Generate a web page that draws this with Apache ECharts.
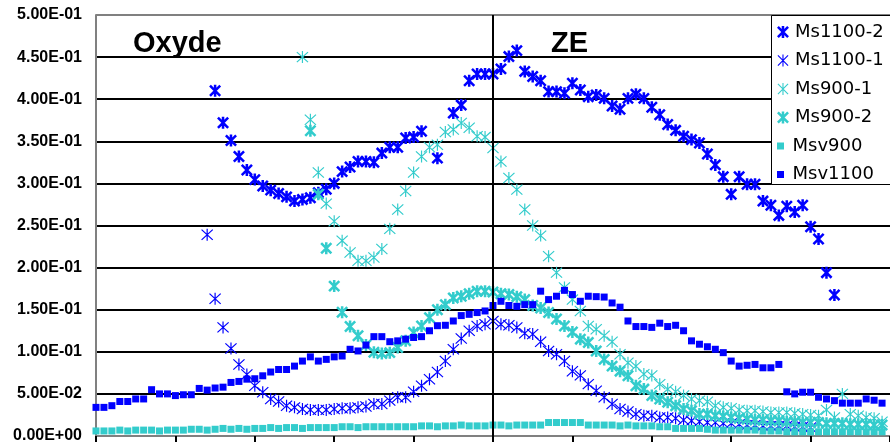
<!DOCTYPE html>
<html><head><meta charset="utf-8">
<script src="https://cdn.jsdelivr.net/npm/echarts@6/dist/echarts.min.js"></script>
<style>html,body{margin:0;padding:0;background:#fff}#c{width:890px;height:444px}</style>
</head><body><div id="c"></div>
<script>
// ---------------- DATA ----------------
const seriesNames = ['Ms1100-2', 'Ms1100-1', 'Ms900-1', 'Ms900-2', 'Msv900', 'Msv1100'];
const yTickLabels = ['0.00E+00','5.00E-02','1.00E-01','1.50E-01','2.00E-01','2.50E-01','3.00E-01','3.50E-01','4.00E-01','4.50E-01','5.00E-01'];
const zoneLabels = ['Oxyde', 'ZE'];
const zoneBoundary = 50;

const ms1100_2_start = 15;
const ms1100_2 = [
  0.410,0.372,0.351,0.332,0.316,0.3045,0.297,0.292,0.288,0.284,
  0.279,0.281,0.283,0.289,0.293,0.300,0.314,0.3195,0.326,0.326,
  0.325,0.336,0.343,0.343,0.354,0.355,0.362,null,0.330,null,
  0.3835,0.393,0.422,0.430,0.430,0.430,0.436,0.4506,0.4577,0.433,
  0.427,0.422,0.409,0.409,0.407,0.419,0.411,0.403,0.405,0.401,
  0.392,0.388,0.401,0.406,0.401,0.3905,0.3815,0.370,0.363,0.356,
  0.352,0.348,0.335,0.322,0.308,0.287,0.308,0.299,0.299,0.279,
  0.274,0.262,0.273,0.266,0.274,0.2485,0.234,0.194,0.1675
];

const ms1100_1_start = 14;
const ms1100_1 = [
  0.239,0.163,0.129,0.104,0.085,0.073,0.0596,0.052,0.044,0.041,
  0.036,0.034,0.032,0.031,0.031,0.031,0.032,0.033,0.033,0.034,
  0.035,0.038,0.038,0.042,0.046,0.046,0.0525,0.0596,0.0675,0.076,
  0.089,0.103,0.1157,0.125,0.1307,0.1327,0.1366,0.1327,0.1315,0.1288,
  0.122,0.121,0.112,0.101,0.097,0.089,0.077,0.072,0.0616,0.0537,
  0.046,0.038,0.032,0.029,0.026,0.024,0.024,0.022,0.022,0.021,
  0.019,0.018,0.017,0.016,0.016,0.015,0.015,0.014,0.013,0.013,
  0.012,0.012,0.012,0.012,0.011,0.011,0.010
];

const ms900_1_start = 26;
const ms900_1 = [
  0.450,0.3756,0.313,0.276,0.255,0.232,0.218,0.208,0.208,0.212,
  0.222,0.246,0.269,0.291,0.313,0.332,0.343,0.346,0.361,0.364,
  0.3717,0.366,0.356,0.355,0.342,0.326,0.3065,0.2926,0.269,0.250,
  0.238,0.2136,0.194,0.1765,0.162,0.1485,0.1307,0.1268,0.119,0.112,
  0.097,0.087,0.083,0.0735,0.072,0.0616,0.0557,0.0525,0.048,0.044,
  0.042,0.0406,0.036,0.034,0.033,0.031,0.030,0.030,0.029,0.028,
  0.028,0.028,0.027,0.026,0.025,0.024,0.031,0.022,0.050,0.026,
  0.024,0.022,0.021,0.017
];

const ms900_2_start = 27;
const ms900_2 = [
  0.3626,0.287,0.223,0.178,0.147,0.130,0.119,0.108,0.0995,0.098,
  0.099,0.105,0.113,0.123,0.1307,0.1406,0.150,0.156,0.164,0.166,
  0.169,0.172,0.172,0.171,0.169,0.168,0.1655,0.162,0.155,0.152,
  0.1466,0.139,0.1307,0.1236,0.115,0.111,0.101,0.091,0.083,0.077,
  0.0715,0.0596,0.0557,0.048,0.044,0.040,0.036,0.032,0.030,0.026,
  0.026,0.024,0.0233,0.022,0.021,0.020,0.019,0.019,0.018,0.018,
  0.017,0.017,0.016,0.016,0.016,0.015,0.015,0.015,0.014,0.014,
  0.014,0.013,0.013
];

const msv900_start = 0;
const msv900 = [
  0.006,0.006,0.006,0.007,0.006,0.007,0.007,0.007,0.006,0.007,
  0.007,0.007,0.008,0.008,0.007,0.008,0.009,0.008,0.009,0.008,
  0.009,0.009,0.010,0.009,0.010,0.010,0.009,0.010,0.010,0.010,
  0.010,0.011,0.011,0.010,0.011,0.011,0.011,0.011,0.011,0.011,
  0.011,0.012,0.012,0.011,0.012,0.012,0.013,0.012,0.012,0.012,
  0.013,0.013,0.012,0.013,0.013,0.013,0.013,0.016,0.016,0.016,
  0.016,0.016,0.013,0.013,0.013,0.013,0.012,0.013,0.012,0.012,
  0.012,0.011,0.011,0.009,0.009,0.009,0.009,0.008,0.007,0.007,
  0.007,0.007,0.007,0.007,0.006,0.006,0.006,0.005,0.005,0.005,
  0.005,0.005,0.005,0.005,0.005,0.005,0.005,0.005,0.005,0.005
];

const msv1100_start = 0;
const msv1100 = [
  0.034,0.034,0.036,0.041,0.041,0.044,0.044,0.055,0.050,0.050,
  0.048,0.049,0.049,0.0565,0.0545,0.057,0.058,0.0636,0.0648,0.0675,
  0.068,0.0715,0.076,0.079,0.079,0.083,0.089,0.094,0.089,0.091,
  0.094,0.095,0.103,0.101,0.108,0.118,0.118,0.112,0.113,0.115,
  0.117,0.118,0.125,0.131,0.1315,0.1366,0.143,0.1445,0.1466,0.1485,
  0.155,0.160,0.155,0.154,0.156,0.156,0.172,0.162,0.166,0.173,
  0.168,0.160,0.166,0.1655,0.165,0.158,0.153,0.1366,0.130,0.130,
  0.129,0.134,0.130,0.1315,0.125,0.113,0.109,0.106,0.103,0.099,
  0.089,0.083,0.084,0.085,0.081,0.081,0.085,0.0525,0.050,0.052,
  0.052,0.046,0.044,0.042,0.039,0.039,0.039,0.044,0.0425,0.039
];

// ---------------- STYLE ----------------
const BLUE = '#0000FF', TURQ = '#33CCCC';
function asteriskPath(t) {
  const c = 10, parts = [];
  const arms = [[0, 1, 10], [Math.SQRT1_2, Math.SQRT1_2, 12], [Math.SQRT1_2, -Math.SQRT1_2, 12]];
  for (const [dx, dy, a] of arms) {
    const nx = -dy, ny = dx;
    const pts = [
      [c + a * dx + t * nx, c + a * dy + t * ny],
      [c - a * dx + t * nx, c - a * dy + t * ny],
      [c - a * dx - t * nx, c - a * dy - t * ny],
      [c + a * dx - t * nx, c + a * dy - t * ny]
    ];
    parts.push('M' + pts.map(p => p[0].toFixed(2) + ',' + p[1].toFixed(2)).join('L') + 'Z');
  }
  return 'path://' + parts.join('');
}
const STAR_BOLD = asteriskPath(2.1);
const STAR_THIN = asteriskPath(0.9);
const SQUARE = 'path://M0,0L10,0L10,10L0,10Z';

function toPoints(start, arr) {
  const out = [];
  arr.forEach((v, i) => { if (v !== null && v !== undefined) out.push([start + i, v]); });
  return out;
}

const seriesDefs = [
  { name: seriesNames[0], data: toPoints(ms1100_2_start, ms1100_2), symbol: STAR_BOLD, size: 12, color: BLUE },
  { name: seriesNames[1], data: toPoints(ms1100_1_start, ms1100_1), symbol: STAR_THIN, size: 12, color: BLUE },
  { name: seriesNames[2], data: toPoints(ms900_1_start, ms900_1), symbol: STAR_THIN, size: 12, color: TURQ },
  { name: seriesNames[3], data: toPoints(ms900_2_start, ms900_2), symbol: STAR_BOLD, size: 12, color: TURQ },
  { name: seriesNames[4], data: toPoints(msv900_start, msv900), symbol: SQUARE, size: 7, color: TURQ },
  { name: seriesNames[5], data: toPoints(msv1100_start, msv1100), symbol: SQUARE, size: 7, color: BLUE }
];

const series = seriesDefs.map((d, idx) => {
  const s = {
    type: 'scatter', name: d.name, data: d.data,
    symbol: d.symbol, symbolSize: d.size, symbolKeepAspect: false,
    itemStyle: { color: d.color, opacity: 1 },
    emphasis: { disabled: true }, silent: true
  };
  if (idx === 0) {
    s.markLine = {
      silent: true, symbol: ['none', 'none'], animation: false,
      label: { show: false },
      lineStyle: { color: '#000', width: 2, type: 'solid' },
      data: [{ xAxis: zoneBoundary }]
    };
  }
  return s;
});

const legendText = { fontFamily: 'DejaVu Sans', fontSize: 18, color: '#000', lineHeight: 18 };
const chart = echarts.init(document.getElementById('c'), null, { renderer: 'canvas' });
chart.setOption({
  animation: false,
  backgroundColor: '#fff',
  grid: { left: 96, right: -8, top: 15, bottom: 7, containLabel: false },
  xAxis: {
    type: 'value', min: 0, max: 100, interval: 10,
    axisLine: { show: true, lineStyle: { color: '#808080', width: 2 } },
    axisTick: { show: true, inside: false, length: 6, lineStyle: { color: '#000', width: 2 } },
    axisLabel: { show: false },
    splitLine: { show: false }
  },
  yAxis: {
    type: 'value', min: 0, max: 0.5, interval: 0.05,
    axisLine: { show: true, lineStyle: { color: '#808080', width: 2 } },
    axisTick: { show: false },
    axisLabel: {
      margin: 14, color: '#000', fontFamily: 'Arial', fontWeight: 'bold', fontSize: 16,
      padding: [4, 0, 0, 0],
      formatter: v => yTickLabels[Math.round(v / 0.05)]
    },
    splitLine: { show: true, lineStyle: { width: 2, color: ['#808080', '#000', '#000', '#000', '#000', '#000', '#000', '#000', '#000', '#000', '#808080'] } }
  },
  legend: [
    {
      z: 10, orient: 'vertical', left: 777, top: 23, padding: 0, itemGap: 10.5,
      itemWidth: 14, itemHeight: 12, symbolKeepAspect: true, selectedMode: false,
      textStyle: legendText,
      data: seriesDefs.slice(0, 4).map(d => ({ name: d.name, icon: d.symbol }))
    },
    {
      z: 10, orient: 'vertical', left: 777, top: 137, padding: 0, itemGap: 10.5,
      itemWidth: 14, itemHeight: 7, symbolKeepAspect: true, selectedMode: false,
      textStyle: legendText,
      data: seriesDefs.slice(4).map(d => ({ name: d.name, icon: d.symbol }))
    }
  ],
  graphic: [
    { type: 'rect', z: 5, shape: { x: 771.5, y: 15.5, width: 140, height: 169 }, style: { fill: '#fff', stroke: '#000', lineWidth: 1 } },
    { type: 'text', z: 5, x: 133, y: 44, style: { text: zoneLabels[0], font: 'bold 29px Arial', fill: '#000', verticalAlign: 'middle', align: 'left' } },
    { type: 'text', z: 5, x: 551, y: 44, style: { text: zoneLabels[1], font: 'bold 29px Arial', fill: '#000', verticalAlign: 'middle', align: 'left' } }
  ],
  series: series
});
</script>
</body></html>
